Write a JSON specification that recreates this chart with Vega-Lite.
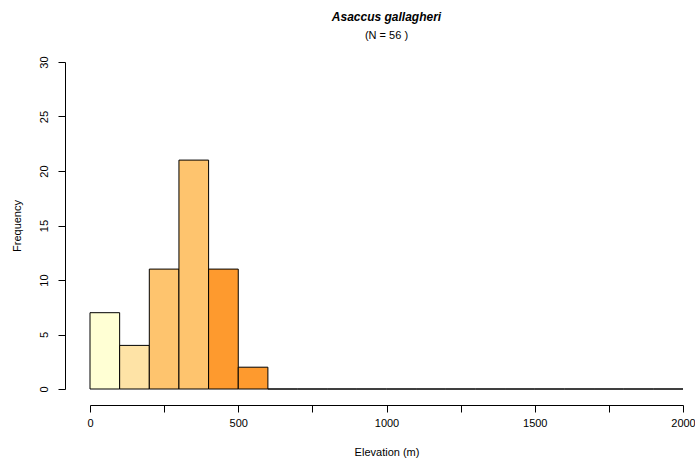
{
  "$schema": "https://vega.github.io/schema/vega-lite/v6.json",
  "width": 593,
  "height": 327,
  "autosize": {"type": "none"},
  "padding": {"left": 90, "top": 62, "right": 12, "bottom": 70},
  "background": "white",
  "title": {
    "text": "Asaccus gallagheri",
    "subtitle": "(N = 56 )",
    "font": "Liberation Sans",
    "fontSize": 12,
    "fontStyle": "italic",
    "fontWeight": "bold",
    "subtitleFont": "Liberation Sans",
    "subtitleFontSize": 11,
    "subtitleColor": "black",
    "subtitlePadding": 6,
    "color": "black",
    "anchor": "middle",
    "offset": 14
  },
  "config": {"view": {"stroke": null}},
  "data": {
    "values": [
      {"lo": 0, "hi": 100, "n": 7, "band": "a"},
      {"lo": 100, "hi": 200, "n": 4, "band": "b"},
      {"lo": 200, "hi": 300, "n": 11, "band": "c"},
      {"lo": 300, "hi": 400, "n": 21, "band": "c"},
      {"lo": 400, "hi": 500, "n": 11, "band": "d"},
      {"lo": 500, "hi": 600, "n": 2, "band": "d"},
      {"lo": 600, "hi": 700, "n": 0, "band": "d"},
      {"lo": 700, "hi": 800, "n": 0, "band": "d"},
      {"lo": 800, "hi": 900, "n": 0, "band": "d"},
      {"lo": 900, "hi": 1000, "n": 0, "band": "d"},
      {"lo": 1000, "hi": 1100, "n": 0, "band": "d"},
      {"lo": 1100, "hi": 1200, "n": 0, "band": "d"},
      {"lo": 1200, "hi": 1300, "n": 0, "band": "d"},
      {"lo": 1300, "hi": 1400, "n": 0, "band": "d"},
      {"lo": 1400, "hi": 1500, "n": 0, "band": "d"},
      {"lo": 1500, "hi": 1600, "n": 0, "band": "d"},
      {"lo": 1600, "hi": 1700, "n": 0, "band": "d"},
      {"lo": 1700, "hi": 1800, "n": 0, "band": "d"},
      {"lo": 1800, "hi": 1900, "n": 0, "band": "d"},
      {"lo": 1900, "hi": 2000, "n": 0, "band": "d"}
    ]
  },
  "mark": {"type": "rect", "stroke": "black", "strokeWidth": 1},
  "encoding": {
    "x": {
      "field": "lo", "type": "quantitative",
      "scale": {"domain": [0, 2000], "nice": false, "zero": false},
      "axis": {
        "title": "Elevation (m)",
        "values": [0, 250, 500, 750, 1000, 1250, 1500, 1750, 2000],
        "labelExpr": "datum.value % 500 === 0 ? datum.label : ''",
        "format": "d",
        "grid": false,
        "offset": 16,
        "domainColor": "black",
        "tickColor": "black",
        "tickSize": 7,
        "labelFont": "Liberation Sans",
        "labelFontSize": 11,
        "labelColor": "black",
        "labelPadding": 5,
        "labelOverlap": false,
        "labelFlush": false,
        "titleFont": "Liberation Sans",
        "titleFontSize": 11,
        "titleFontWeight": "normal",
        "titleColor": "black",
        "titlePadding": 18
      }
    },
    "x2": {"field": "hi"},
    "y": {
      "field": "n", "type": "quantitative",
      "scale": {"domain": [0, 30], "nice": false},
      "axis": {
        "title": "Frequency",
        "values": [0, 5, 10, 15, 20, 25, 30],
        "grid": false,
        "offset": 25,
        "domainColor": "black",
        "tickColor": "black",
        "tickSize": 7,
        "labelAngle": -90,
        "labelAlign": "center",
        "labelBaseline": "bottom",
        "labelFont": "Liberation Sans",
        "labelFontSize": 11,
        "labelColor": "black",
        "labelPadding": 9,
        "labelFlush": false,
        "titleFont": "Liberation Sans",
        "titleFontSize": 11,
        "titleFontWeight": "normal",
        "titleColor": "black",
        "titlePadding": 16
      }
    },
    "y2": {"datum": 0},
    "color": {
      "field": "band", "type": "nominal",
      "scale": {"domain": ["a", "b", "c", "d"], "range": ["#FFFFD4", "#FEE3A6", "#FEC46E", "#FE9A2E"]},
      "legend": null
    }
  }
}
